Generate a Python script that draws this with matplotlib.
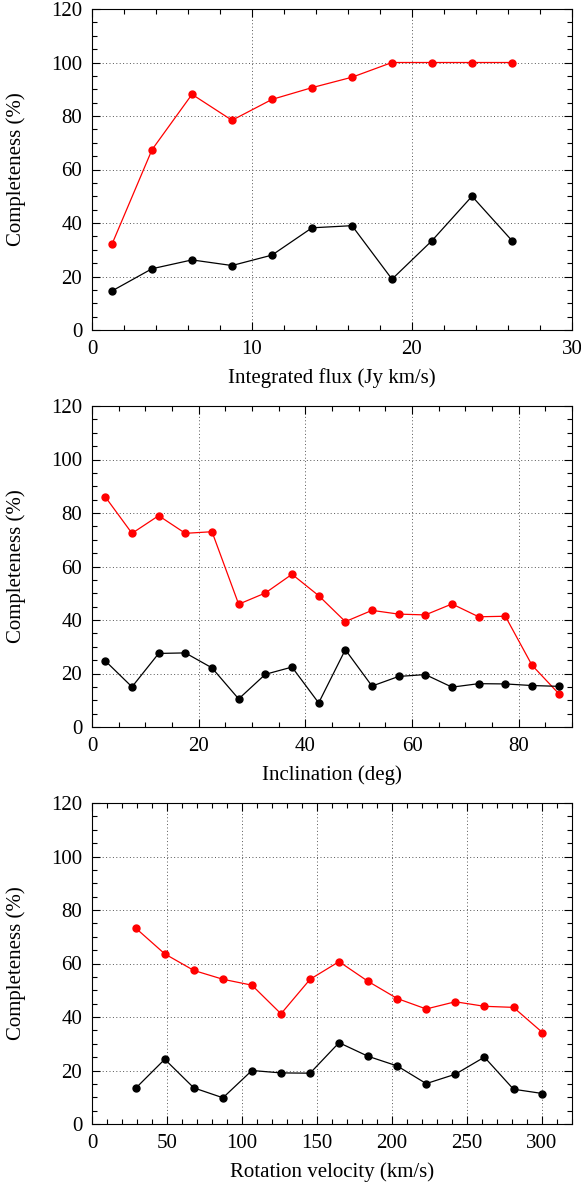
import matplotlib
matplotlib.use("Agg")
import matplotlib.pyplot as plt
from matplotlib.ticker import MultipleLocator

plt.rcParams['font.family'] = ['Liberation Serif', 'DejaVu Serif']
plt.rcParams['font.size'] = 15

# panel 1: integrated flux
flux_x = [1.25, 3.75, 6.25, 8.75, 11.25, 13.75, 16.25, 18.75, 21.25, 23.75, 26.25]
flux_red = [32.1, 67.4, 88.1, 78.4, 86.2, 90.6, 94.5, 100, 100, 100, 100]
flux_black = [14.6, 22.9, 26.2, 24.1, 28.0, 38.2, 39.0, 19.0, 33.4, 50.0, 33.4]

# panel 2: inclination
inc_x = [2.5, 7.5, 12.5, 17.5, 22.5, 27.5, 32.5, 37.5, 42.5, 47.5,
         52.5, 57.5, 62.5, 67.5, 72.5, 77.5, 82.5, 87.5]
inc_red = [86.0, 72.4, 79.0, 72.4, 73.0, 45.9, 50.1, 57.1, 49.1, 39.4,
           43.6, 42.2, 41.9, 46.0, 41.2, 41.4, 23.1, 12.5]
inc_black = [24.7, 15.0, 27.5, 27.7, 22.1, 10.5, 19.7, 22.4, 9.0, 28.9,
             15.3, 18.9, 19.6, 14.9, 16.2, 16.1, 15.5, 15.2]

# panel 3: rotation velocity
vrot_x = [29.0, 48.5, 67.9, 87.3, 106.6, 126.0, 145.4, 164.7, 184.1, 203.5,
          222.8, 242.2, 261.6, 281.0, 300.3]
vrot_red = [73.3, 63.6, 57.4, 54.1, 51.9, 41.2, 54.1, 60.7, 53.3, 46.9,
            43.0, 45.7, 44.0, 43.6, 34.2]
vrot_black = [13.3, 24.2, 13.5, 9.8, 20.0, 19.1, 19.0, 30.4, 25.3, 21.7,
              15.1, 18.6, 25.0, 13.0, 11.4]

panels = [
    (flux_x, flux_red, flux_black, 'Integrated flux (Jy km/s)', 30, 10, 2),
    (inc_x, inc_red, inc_black, 'Inclination (deg)', 90, 20, 5),
    (vrot_x, vrot_red, vrot_black, 'Rotation velocity (km/s)', 320, 50, 10),
]

fig = plt.figure(figsize=(5.81, 11.86), dpi=100)
W, H = 581.0, 1186.0
left, right = 92, 572
tops = [9, 406, 803]
bottoms = [330, 727, 1124]

for i, (x, red, black, xlabel, xmax, xmaj, xmin) in enumerate(panels):
    ax = fig.add_axes([left / W, 1 - bottoms[i] / H,
                       (right - left) / W, (bottoms[i] - tops[i]) / H])
    ax.plot(x, red, '-o', color='#ff0000', lw=0.9, ms=5, zorder=3)
    ax.plot(x, black, '-o', color='black', lw=0.9, ms=5, zorder=3)
    ax.set_xlim(0, xmax)
    ax.set_ylim(0, 120)
    ax.xaxis.set_major_locator(MultipleLocator(xmaj))
    ax.xaxis.set_minor_locator(MultipleLocator(xmin))
    ax.yaxis.set_major_locator(MultipleLocator(20))
    ax.yaxis.set_minor_locator(MultipleLocator(5))
    ax.tick_params(which='both', direction='in', top=True, right=True)
    ax.tick_params(which='major', length=6, width=0.8, pad=7)
    ax.tick_params(which='minor', length=3.5, width=0.8)
    ax.grid(True, which='major', color='#555555', lw=0.7, ls=(0, (1, 2.5)))
    ax.set_axisbelow(True)
    ax.set_xlabel(xlabel, labelpad=7)
    ax.set_ylabel('Completeness (%)', labelpad=18)

fig.savefig('out.png', dpi=100)
